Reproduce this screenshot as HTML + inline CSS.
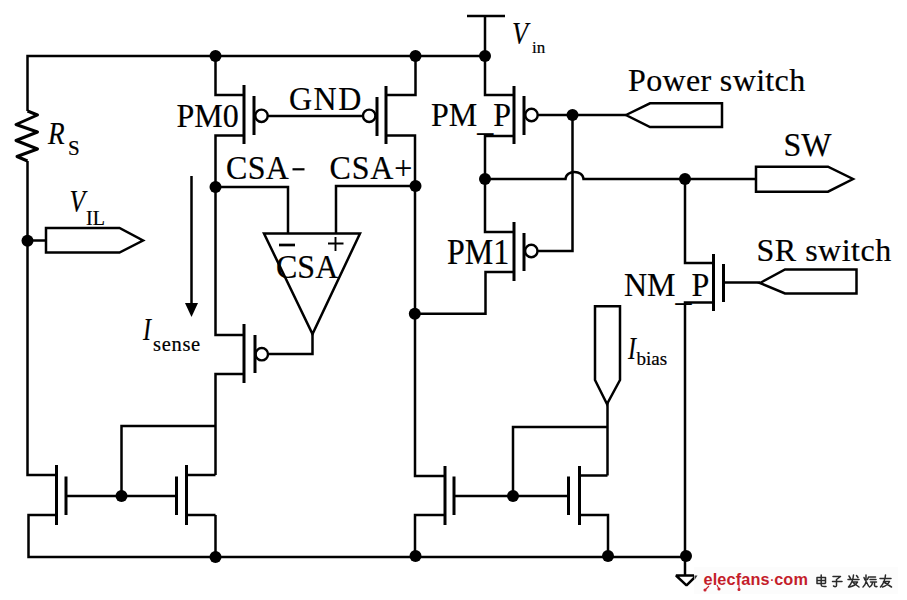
<!DOCTYPE html>
<html><head><meta charset="utf-8">
<style>
html,body{margin:0;padding:0;background:#fff;}
svg{display:block;}
text{font-family:"Liberation Serif",serif;fill:#000;stroke:#000;stroke-width:0.2px;}
.t{font-size:32px;}
.s{font-size:23px;}
.i{font-style:italic;}
</style></head><body>
<svg width="907" height="600" viewBox="0 0 907 600">
<rect width="907" height="600" fill="#fff"/>
<g fill="none" stroke="#000" stroke-width="2.5" stroke-linecap="butt" stroke-linejoin="miter">
<!-- top rail + resistor -->
<path d="M27.5 111 V56 H485"/>
<path d="M27.5 111 L37.5 115 L16 124.5 L37.5 132 L16 140.5 L37.5 149 L17 156.5 L27.5 161" stroke-width="3" stroke-linejoin="round"/>
<!-- left vertical to mirror -->
<path d="M27.5 161 V475 H56.5"/>
<!-- V_IL connector -->
<path d="M27.5 240.5 H46"/>
<path d="M46 228 H119.5 L143 240.5 L119.5 252.5 H46 Z"/>
<!-- PM0 -->
<path d="M215.5 56 V95 H244"/>
<path d="M244 135.5 H215.5 V335 H244"/>
<path d="M215.5 187 H288 V233.5"/>
<!-- gate wire PM0-PM+ -->
<path d="M267.5 116 H363"/>
<circle cx="261.5" cy="115.8" r="6.2" stroke-width="2.4"/>
<circle cx="369.2" cy="115.8" r="6.2" stroke-width="2.4"/>
<!-- PM+ -->
<path d="M415.5 56 V95 H386"/>
<path d="M386 135.5 H415 V476 H445"/>
<path d="M415 186 H336 V233.5"/>
<!-- PM_P -->
<path d="M467 16 H505"/>
<path d="M485 16 V95 H514"/>
<path d="M514 136 H485 V232 H514"/>
<circle cx="531.5" cy="115" r="6.2" stroke-width="2.4"/>
<path d="M537.5 115 H626"/>
<path d="M572.5 115 V251 H537.5"/>
<circle cx="531.3" cy="251" r="6.2" stroke-width="2.4"/>
<!-- SW wire with hop -->
<path d="M485 179 H565.5 C566 169.5 583 169.5 583.5 179 H756"/>
<!-- PM1 -->
<path d="M514 272 H485.5 V313.8 H415"/>
<!-- power switch connector -->
<path d="M626 115 L650 103.3 H722 V127 H650 Z"/>
<!-- SW connector -->
<path d="M756 166.7 H828 L853 179 L828 191.7 H756 Z"/>
<!-- op amp -->
<path d="M264 233.5 H360 L312.5 334 Z"/>
<path d="M312.5 334 V354 H268"/>
<circle cx="261.8" cy="354.2" r="6.2" stroke-width="2.4"/>
<path d="M279 245 H295" stroke-width="2.7"/><path d="M328 243.5 H343.5 M335.5 237 V251" stroke-width="1.9"/>
<!-- Isense pmos source -->
<path d="M244 374 H215.5 V475"/><path d="M215.5 515 V557"/>
<!-- left mirror -->
<path d="M56.5 515 H28.5 V557 H686"/>
<path d="M66 496 H176.5"/>
<path d="M121.5 496 V426 H215.5"/>
<path d="M186.5 475 H215.5 M186.5 515 H215.5"/>
<!-- right mirror -->
<path d="M445 515 H415 V556"/>
<path d="M454 496 H568.5"/>
<path d="M513 496 V427 H607.5"/><path d="M607.5 403 V475.5"/>
<path d="M579.5 475.5 H607.5 M579.5 515 H608 V556"/>
<!-- Ibias connector -->
<path d="M595 306.3 H620 V380 L607 404 L595 380 Z"/>
<!-- NM_P -->
<path d="M685 179 V263 H713.5"/>
<path d="M713.5 302.5 H685 V575"/>
<path d="M723.5 282.5 H760"/>
<path d="M760 283 L785 269.5 H856.5 V293.5 H785 Z"/>
<!-- ground -->
<path d="M676 575.5 H696.5 L686.5 585.3 Z" stroke-linejoin="bevel"/>
<!-- arrow -->
<path d="M191.5 176 V305"/>
</g>
<!-- thick channel & gate lines -->
<g stroke="#000" stroke-width="3" fill="none">
<path d="M244 85 V144 M254 96 V135"/>
<path d="M386 86 V144 M377 97 V136"/>
<path d="M514 86 V144 M524 96 V135"/>
<path d="M514 222 V281 M524 233 V271"/>
<path d="M244 324 V383 M255 335 V373"/>
<path d="M56.5 465 V525 M66 476.5 V515"/>
<path d="M186.5 465 V525 M176.5 476.5 V515"/>
<path d="M445 466 V525 M454 476.5 V515"/>
<path d="M579.5 466 V525 M568.5 476.5 V515"/>
<path d="M713.5 254 V311 M723.5 264 V302"/>
</g>
<g fill="#000">
<circle cx="215.5" cy="56" r="6"/>
<circle cx="415.5" cy="56" r="6"/>
<circle cx="485" cy="56" r="6"/>
<circle cx="215.5" cy="187" r="6"/>
<circle cx="415.5" cy="186" r="6"/>
<circle cx="485" cy="179" r="6"/>
<circle cx="572.5" cy="115" r="6"/>
<circle cx="685" cy="179" r="6"/>
<circle cx="27.5" cy="240.8" r="6"/>
<circle cx="121.5" cy="496" r="6"/>
<circle cx="215.5" cy="557" r="6"/>
<circle cx="415.5" cy="556" r="6"/>
<circle cx="513" cy="496" r="6"/>
<circle cx="608" cy="556" r="6"/>
<circle cx="686" cy="556" r="6"/>
<circle cx="414.8" cy="313.8" r="6"/>
<path d="M185 303 H198 L191.5 317 Z"/>
</g>
<!-- texts -->
<text class="t" transform="translate(176.5,126.5) scale(1,1.08)">PM0</text>
<text class="t" transform="translate(289.0,110.0) scale(1,1.05)" letter-spacing="1.5">GND</text>
<text class="t" transform="translate(431.0,125.5) scale(1,1.05)">PM<tspan dy="5">_</tspan><tspan dy="-5">P</tspan></text>
<text class="t" transform="translate(226.0,178.5) scale(1,1.05)" letter-spacing="0.3">CSA</text><path d="M292.5 169.3 H304.5" stroke="#000" stroke-width="2.2"/>
<text class="t" transform="translate(329.5,179.0) scale(1,1.05)" letter-spacing="0.8">CSA+</text>
<text class="t" transform="translate(276.0,278.3) scale(1,1.05)">CSA</text>
<text class="t" transform="translate(447.0,264.0) scale(1,1.09)">PM1</text>
<text class="t" transform="translate(624.0,295.5) scale(1,1.05)">NM<tspan dy="5">_</tspan><tspan dy="-5">P</tspan></text>
<text class="t" x="628" y="91" letter-spacing="0.35">Power switch</text>
<text class="t" transform="translate(783.5,156.0) scale(1,1.05)">SW</text>
<text class="t" x="756.5" y="260.5" letter-spacing="0.5">SR switch</text>
<text class="t i" transform="translate(512,43.5) scale(0.82,1)">V</text><text class="s" x="532" y="53" style="font-size:17px">in</text>
<text class="t i" transform="translate(48,144) scale(0.85,1)">R</text><text class="s" x="68" y="154.8" style="font-size:21px">S</text>
<text class="t i" transform="translate(69.5,211.5) scale(0.8,1)">V</text><text class="s" x="86" y="224.5" style="font-size:20px">IL</text>
<text class="t i" transform="translate(143,340) scale(0.75,1)">I</text><text class="s" x="153" y="351.3" style="font-size:20.5px" letter-spacing="0.7">sense</text>
<text class="t i" transform="translate(628,358.8) scale(0.75,1)">I</text><text class="s" x="636.5" y="365.2" style="font-size:19px">bias</text>
<!-- watermark -->
<rect x="694" y="567" width="204" height="27" fill="#fcfcfc"/>
<path d="M694.5 575.5 H697.5 L694.5 580 Z" fill="#333"/>
<text x="703.5" y="584.8" style="font-family:'Liberation Sans',sans-serif;font-weight:bold;font-size:16.3px;fill:#c41d2a;stroke:none;" letter-spacing="0.12">elecfans<tspan dx="-0.5" style="font-weight:normal">·</tspan><tspan dx="-0.5">com</tspan></text>
<g stroke="#c8202c" stroke-width="1.1" fill="#c8202c">
<path d="M709 586 L705 590" fill="none"/><circle cx="705" cy="590" r="1"/>
<path d="M717 585 L719 589" fill="none"/><circle cx="719" cy="589" r="1"/>
<path d="M739 585 V589" fill="none"/><circle cx="739" cy="589.5" r="1"/>
</g>
<g stroke="#2a2a2a" stroke-width="1.5" fill="none" stroke-linecap="round" stroke-linejoin="round">
<path d="M817 577.5 V583.5 M817 577.5 H825.5 V583 M817 580.5 H825 M817 583.5 H825 M821.2 575 V585 Q821.5 587 826 586.5"/>
<path d="M833 576.5 H840.5 L836.5 579.5 M836.5 579.5 V585.5 Q836 587.5 833.5 586 M832.5 581.5 H842"/>
<path d="M849 576 L850.5 578.5 M848 579.5 H859 M853.5 575 Q853 582 848.5 587 M852 582 H857.5 Q855 586 849.5 587 M853.5 583 L859 587 M856.5 575.5 L858 577.5"/>
<path d="M864 577.5 L865 580 M868.5 577 L867.5 579.5 M866 575 V581.5 Q865.5 585 863 587 M866.5 582 L868.5 586 M869.5 577 H875.5 M870 579.5 H876 M870.5 582 H876.5 M872.5 582.5 Q872 586 869.5 587 M874.5 582.5 V585.5 Q875 587 877 586.5"/>
<path d="M880 578.5 H891 M885.5 575 Q885 582 880.5 587 M883.5 581.5 H889.5 Q887.5 585.5 882.5 587 M884.5 582.5 L891.5 587"/>
</g>
</svg>
</body></html>
